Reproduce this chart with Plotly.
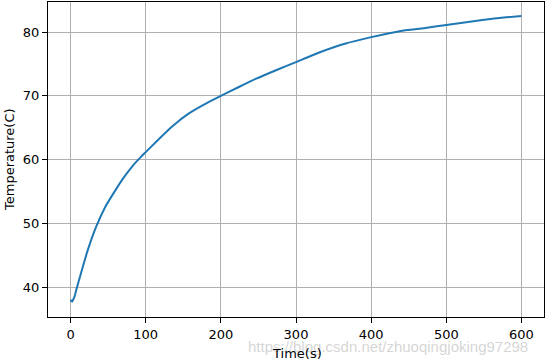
import plotly.graph_objects as go

time_s = [0, 2, 5, 8, 14, 23, 34, 47, 60, 70, 83, 94, 100, 118, 136, 158, 180,
          200, 224, 247, 275, 300, 331, 366, 400, 424, 448, 470, 500, 548, 580, 600]
temperature_c = [38.1, 37.8, 38.5, 39.8, 42.3, 45.9, 49.5, 52.8, 55.3, 57.1, 59.1, 60.5,
                 61.2, 63.3, 65.3, 67.3, 68.8, 70.0, 71.4, 72.7, 74.1, 75.3, 76.8,
                 78.2, 79.2, 79.8, 80.3, 80.6, 81.1, 81.9, 82.3, 82.5]
x_ticks = [0, 100, 200, 300, 400, 500, 600]
y_ticks = [40, 50, 60, 70, 80]

font = dict(family="DejaVu Sans", size=13, color="black")

L, R, T, B = 48, 2, 2, 45
W, H = 546, 362
pw, ph = W - L - R, H - T - B

fig = go.Figure()
fig.add_trace(go.Scatter(x=time_s, y=temperature_c, mode="lines",
                         line=dict(color="#1f77b4", width=2, shape="spline", smoothing=0.4),
                         showlegend=False))

axis_common = dict(showline=True, linecolor="black", linewidth=1, mirror=True,
                   ticks="outside", ticklen=5, tickcolor="black", tickwidth=1,
                   showgrid=True, gridcolor="#b0b0b0", gridwidth=1, zeroline=False,
                   tickfont=font, automargin=False)

def px_x(px):
    return (px - L) / pw

def px_y(py):
    return (H - B - py) / ph

fig.update_layout(
    width=W, height=H,
    margin=dict(l=L, r=R, t=T, b=B),
    paper_bgcolor="white", plot_bgcolor="white",
    font=font,
    xaxis=dict(range=[-30, 630], tickvals=x_ticks, **axis_common),
    yaxis=dict(range=[35.4, 84.7], tickvals=y_ticks, **axis_common),
    annotations=[
        dict(text="https://blog.csdn.net/zhuoqingjoking97298", x=px_x(388), y=px_y(346),
             xref="paper", yref="paper", showarrow=False, xanchor="center", yanchor="middle",
             font=dict(family="Liberation Sans", size=15, color="rgba(185,185,185,0.6)")),
        dict(text="Time(s)", x=px_x(297), y=px_y(353), xref="paper", yref="paper",
             showarrow=False, xanchor="center", yanchor="middle", font=font),
        dict(text="Temperature(C)", x=px_x(9), y=px_y(160), xref="paper", yref="paper",
             showarrow=False, xanchor="center", yanchor="middle", textangle=-90, font=font),
    ],
)

fig.write_html("out.html", config={"displayModeBar": False},
               post_script="document.body.style.margin='0';document.body.style.overflow='hidden';")
